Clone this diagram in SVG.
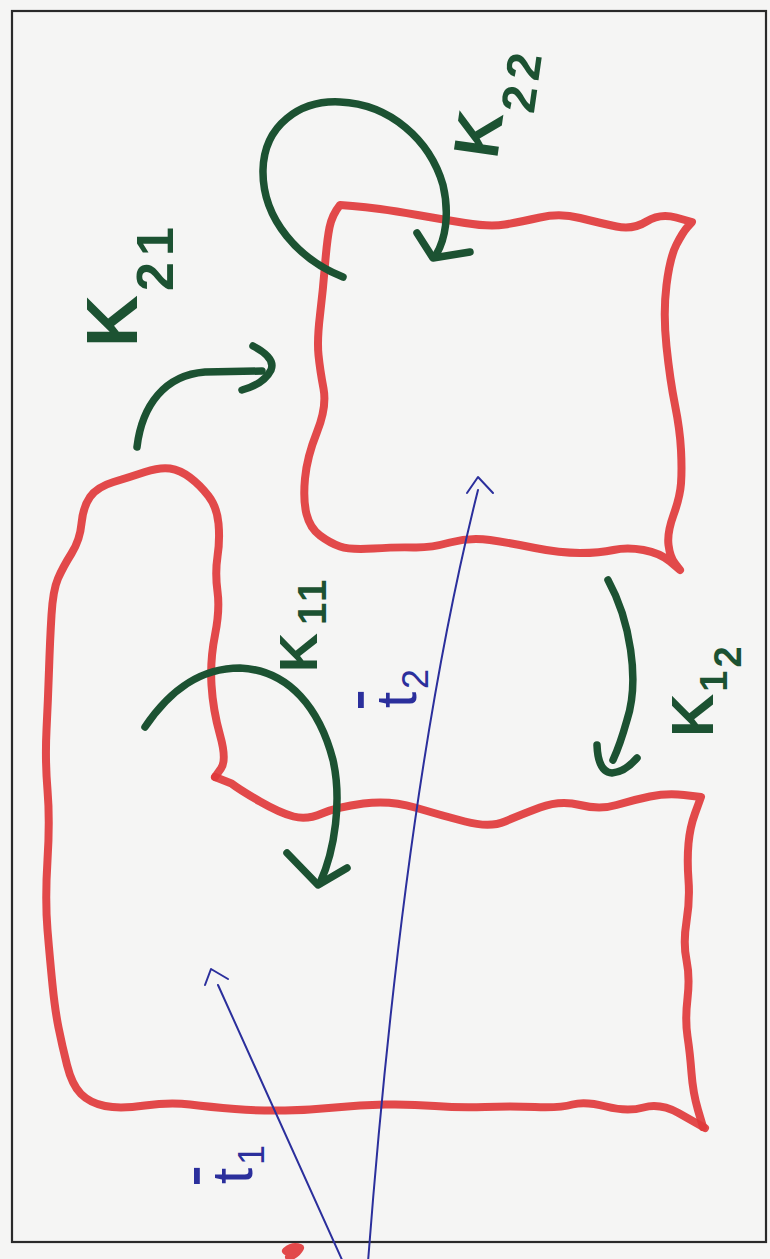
<svg xmlns="http://www.w3.org/2000/svg" width="770" height="1259" viewBox="0 0 770 1259">
<style>
.bg{fill:#f5f5f4}
.frame{fill:none;stroke:#2a2a2a;stroke-width:2.2}
.red{fill:none;stroke:#e0393b;stroke-width:8;stroke-linecap:round;stroke-linejoin:round;stroke-opacity:0.92}
.grn{fill:none;stroke:#1c5232;stroke-width:7.5;stroke-linecap:round;stroke-linejoin:round}
.blu{fill:none;stroke:#2b2f9c;stroke-width:2;stroke-linecap:round;stroke-linejoin:round}
.gt{fill:#1c5232;font-family:"Liberation Sans",Arial,sans-serif;font-weight:bold}
.bt{fill:#2b2f9c;font-family:"Liberation Sans",Arial,sans-serif}
.ov{text-decoration:overline}
</style>
<rect class="bg" x="0" y="0" width="770" height="1259"/>
<rect class="frame" x="12" y="11" width="754" height="1231"/>

<g id="region1">
<path class="red" d="M215,777 L221,768.5 Q227,760 220,735 Q213,710 211.5,685 Q210,660 215,635 Q220,610 217.5,591.5 Q215,573 217.5,556.5 Q220,540 218.5,523.5 Q217,507 208.5,496 Q200,485 190,477.5 Q180,470 170,468.5 Q160,467 145,472 Q130,477 113.5,482 Q97,487 90,497 Q83,507 81.5,523.5 Q80,540 71.5,553.5 Q63,567 58,578.5 Q53,590 51.5,615 Q50,640 49,670 Q48,700 46.5,730 Q45,760 47.5,790 Q50,820 47.5,860 Q45,900 47.5,930 Q50,960 52.5,985 Q55,1010 58.5,1027.5 Q62,1045 67,1065 Q72,1085 81,1094 Q90,1103 105,1106 Q120,1109 145,1105.5 Q170,1102 190,1104.5 Q210,1107 235,1109 Q260,1111 285,1110.5 Q310,1110 335,1107.5 Q360,1105 385,1104.5 Q410,1104 435,1106 Q460,1108 485,1107 Q510,1106 535,1107 Q560,1108 572.5,1104.5 Q585,1101 606,1106.5 Q627,1112 643.5,1107.5 Q660,1103 678.5,1113 L705,1128"/>
<path class="red" d="M703,1127 L698,1110 Q693,1093 691.5,1073 Q690,1053 687.5,1036.5 Q685,1020 687.5,998.5 Q690,977 686.5,960 Q683,943 686.5,921.5 Q690,900 688.5,880 Q687,860 688.5,843.5 Q690,827 695,813.5 L701,797 L684,795 Q667,793 650,796.5 Q633,800 616.5,805 Q600,810 580,805 Q560,800 540,807.5 Q520,815 505,821.5 Q490,828 465,821.5 Q440,815 415,807.5 Q390,800 363.5,803.5 Q337,807 322,813.5 Q307,820 293.5,816.5 Q280,813 260,801.5 Q240,790 231.5,783.5 L215,777"/>
</g>

<g id="region2">
<path class="red" d="M340,205 L352.5,206 Q365,207 380,209 Q395,211 417.5,215 Q440,219 465,223 Q490,227 505,224.5 Q520,222 540,217.5 Q560,213 580,218 Q600,223 616.5,226.5 Q633,230 646.5,221.5 Q660,213 676,217.5 L692,222 L687.5,227 Q683,232 676.5,244.5 Q670,257 666.5,285 Q663,313 666.5,346.5 Q670,380 675,405 Q680,430 681,450 Q682,470 681,483.5 Q680,497 673.5,515 Q667,533 668.5,545 Q670,557 675,563.5 L680,570 L670,561.5 Q660,553 643.5,550 Q627,547 613.5,550 Q600,553 580,553 Q560,553 535,548 Q510,543 490,540 Q470,537 450,542.5 Q430,548 413.5,547.5 Q397,547 373.5,548.5 Q350,550 340,546.5 Q330,543 320,535.5 Q310,528 306.5,514 Q303,500 305,478.5 Q307,457 317,432 Q327,407 323.5,388.5 Q320,370 318.5,355 Q317,340 320,315 Q323,290 325,265 Q327,240 329.5,227.5 Q332,215 340,205 Z"/>
</g>

<g id="connectors">
<g id="k22">
<path class="grn" d="M343,277 C300,260 262,220 263,170 C264,125 300,100 340,102 C390,104 430,140 443,185 C450,215 445,240 436,255"/>
<path class="grn" d="M417,233 L433,258 L470,252"/>
<text class="gt" font-size="64" transform="translate(497,160) rotate(-82)">K<tspan font-size="48" dx="4" dy="30" letter-spacing="6">22</tspan></text>
</g>
<g id="k21">
<path class="grn" d="M137,447 C142,405 165,375 205,372 L262,371"/>
<path class="grn" d="M253,346 Q276,358 271,370 Q264,384 242,390"/>
<text class="gt" font-size="72" transform="translate(137,347) rotate(-90)">K<tspan font-size="52" dx="4" dy="36" letter-spacing="6">21</tspan></text>
</g>
<g id="k11">
<path class="grn" d="M145,727 C170,690 200,668 240,668 C290,670 320,710 333,760 C342,800 335,850 320,883"/>
<path class="grn" d="M287,853 L318,885 L347,868"/>
<text class="gt" font-size="54" transform="translate(317,672) rotate(-90)">K<tspan font-size="40" dx="8" dy="9" letter-spacing="3">11</tspan></text>
</g>
<g id="k12">
<path class="grn" d="M608,580 C630,620 640,680 627,720 Q620,745 613,760"/>
<path class="grn" d="M597,745 Q598,772 612,773 Q625,772 637,758"/>
<text class="gt" font-size="60" transform="translate(713,737) rotate(-90)">K<tspan font-size="38" dx="2" dy="14">1</tspan><tspan font-size="38" dx="3" dy="14">2</tspan></text>
</g>
<g id="t1">
<path class="blu" d="M343,1262 L218,985"/>
<path class="blu" d="M205,985 L211,969 L228,979"/>
<text class="bt" font-size="58" transform="translate(252,1184) rotate(-90)"><tspan class="ov">t</tspan><tspan font-size="36" dx="3" dy="12">1</tspan></text>
</g>
<g id="t2">
<path class="blu" d="M368,1262 Q405,780 478,490"/>
<path class="blu" d="M467,493 L478,477 L493,493"/>
<text class="bt" font-size="58" transform="translate(416,708) rotate(-90)"><tspan class="ov">t</tspan><tspan font-size="36" dx="3" dy="12">2</tspan></text>
</g>
</g>
<path class="red" d="M286,1251 Q293,1245 300,1248 Q297,1254 289,1257" stroke-width="5"/>
</svg>
